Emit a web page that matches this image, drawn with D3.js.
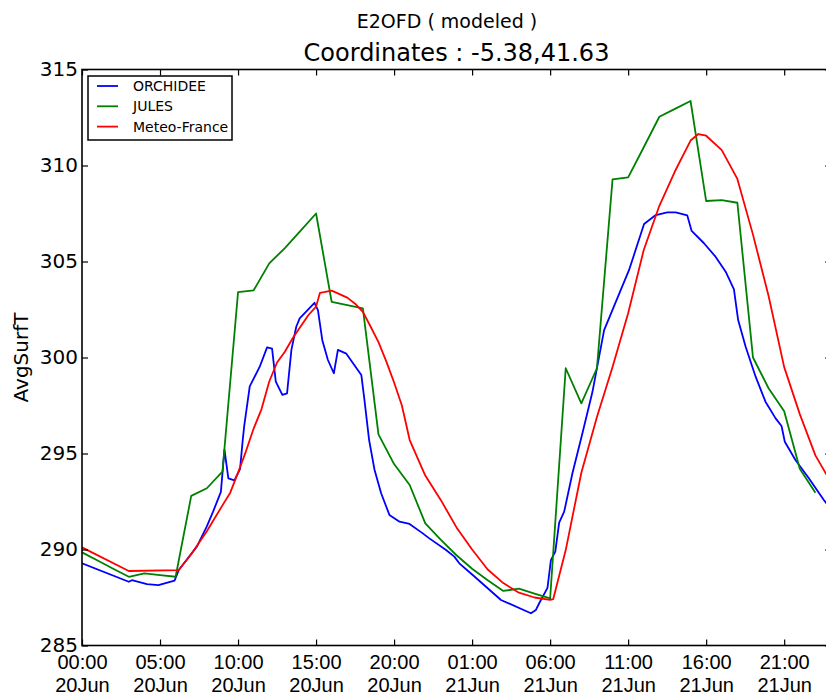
<!DOCTYPE html>
<html>
<head>
<meta charset="utf-8">
<script src="https://cdn.jsdelivr.net/npm/d3@7"></script>
<style>
  html, body { margin: 0; padding: 0; background: #fff; }
  svg { display: block; font-family: "DejaVu Sans", sans-serif; }
</style>
</head>
<body>
<svg id="chart" width="826" height="695"></svg>
<script>
// Surface temperature time series, hours since 00:00 20 Jun
const orchideeHours = [0,3,3.2,4.16,4.9,5.93,6.2,7.36,8.0,8.4,8.9,9.13,9.38,9.77,10.13,10.3,10.39,10.75,11.39,11.86,12.18,12.42,12.84,13.14,13.42,13.73,13.95,14.38,14.9,15.12,15.4,15.76,16.14,16.4,16.94,17.9,18.1,18.4,18.75,19.17,19.7,20.35,20.99,21.84,22.26,23.33,23.86,24.18,25.04,26.85,28.77,29.09,29.3,29.83,30.05,30.33,30.58,30.9,31.43,32.07,32.71,33.46,35.06,36.02,36.77,37.51,38.05,38.79,39.07,39.86,40.6,41.25,41.78,42.05,42.53,43.17,43.8,44.45,44.83,45.04,45.72,46.58,47.54,48];
const orchideeValues = [289.28,288.32,288.4,288.2,288.14,288.38,288.93,290.15,291.2,291.97,293.0,295.2,293.7,293.6,294.2,295.7,296.4,298.5,299.52,300.53,300.46,298.74,298.05,298.13,300.4,301.6,302.04,302.4,302.85,302.47,300.9,299.87,299.18,300.4,300.2,299.09,297.79,295.7,294.14,292.93,291.8,291.45,291.33,290.84,290.58,289.97,289.63,289.28,288.67,287.37,286.68,286.85,287.2,288.0,289.45,289.89,291.4,291.97,293.97,296.05,298.2,301.43,304.56,306.95,307.42,307.56,307.56,307.4,306.59,305.95,305.25,304.47,303.55,301.95,300.56,299.0,297.7,296.83,296.43,295.61,294.66,293.71,292.58,292.1];

const julesHours = [0,1,2,3,4,5,6,7,8,9,10,11,12,13,14,15,16,17,18,19,20,21,22,23,24,25,26,27,28,29,30,31,32,33,34,35,36,37,38,39,40,41,42,43,44,45,46,47];
const julesValues = [289.85,289.43,289.0,288.58,288.76,288.67,288.58,292.79,293.19,294.05,303.4,303.5,304.9,305.7,306.6,307.5,302.9,302.73,302.56,296.0,294.45,293.36,291.36,290.5,289.7,289.0,288.4,287.84,287.96,287.7,287.45,299.44,297.61,299.44,309.28,309.38,310.95,312.54,312.95,313.36,308.15,308.2,308.06,300.0,298.4,297.2,294.2,292.95];

const meteoHours = [0,3,6.2,7,8,9,9.5,10,10.5,11,11.5,12,12.5,13,13.5,14,14.5,15,15.25,15.5,16,16.5,17,17.5,18,18.5,19,19.5,20,20.5,21,22,23,24,25,26,27,28,29,30,30.2,31,32,33,34,35,36,37,38,39,39.5,40,41,42,43,44,45,46,47,48];
const meteoValues = [290.11,288.88,288.93,289.75,290.95,292.3,292.96,294.0,295.1,296.3,297.3,298.75,299.74,300.3,301.0,301.6,302.2,302.65,303.37,303.4,303.48,303.3,303.12,302.8,302.38,301.6,300.8,299.8,298.7,297.5,295.7,293.85,292.57,291.15,290.0,288.96,288.25,287.75,287.5,287.38,287.42,289.97,294.0,296.9,299.5,302.3,305.6,307.9,309.7,311.3,311.64,311.55,310.8,309.3,306.4,303.2,299.5,297.05,294.9,293.5];

const seriesNames = ["ORCHIDEE", "JULES", "Meteo-France"];
const seriesColors = ["#0000ff", "#008000", "#ff0000"];

const xTickHours = [0,5,10,15,20,25,30,35,40,45];
const xTickTimes = ["00:00","05:00","10:00","15:00","20:00","01:00","06:00","11:00","16:00","21:00"];
const xTickDays  = ["20Jun","20Jun","20Jun","20Jun","20Jun","21Jun","21Jun","21Jun","21Jun","21Jun"];
const yTicks = [285,290,295,300,305,310,315];

const suptitleText = "E2OFD ( modeled )";
const titleText = "Coordinates : -5.38,41.63";
const yLabelText = "AvgSurfT";

// Plot frame in pixels
const plotLeft = 82, plotRight = 831, plotTop = 69.5, plotBottom = 645.5;

const svg = d3.select("#chart");
const x = d3.scaleLinear().domain([0, 48]).range([plotLeft, plotRight]);
const y = d3.scaleLinear().domain([285, 315]).range([plotBottom, plotTop]);

svg.append("defs").append("clipPath").attr("id", "plotclip")
  .append("rect").attr("x", plotLeft).attr("y", plotTop)
  .attr("width", plotRight - plotLeft).attr("height", plotBottom - plotTop);

// Series lines
const series = [
  { hours: orchideeHours, values: orchideeValues },
  { hours: julesHours, values: julesValues },
  { hours: meteoHours, values: meteoValues }
];
const line = d3.line().x(d => x(d[0])).y(d => y(d[1]));
const lineLayer = svg.append("g").attr("clip-path", "url(#plotclip)");
series.forEach((s, i) => {
  lineLayer.append("path")
    .datum(d3.zip(s.hours, s.values))
    .attr("fill", "none")
    .attr("stroke", seriesColors[i])
    .attr("stroke-width", 1.8)
    .attr("stroke-linejoin", "round")
    .attr("d", line);
});

// Axes (inward ticks on all four sides)
function styleAxis(g) {
  g.select(".domain").remove();
  g.selectAll(".tick line").attr("stroke", "#000").attr("stroke-width", 1.2);
  g.selectAll(".tick text").attr("fill", "#000");
}

const xBottom = svg.append("g").attr("transform", `translate(0,${plotBottom})`)
  .call(d3.axisBottom(x).tickValues(xTickHours).tickSize(-6).tickSizeOuter(0).tickFormat(""));
styleAxis(xBottom);
xBottom.selectAll(".tick text").remove();
xBottom.selectAll(".tick").each(function(d, i) {
  const t = d3.select(this).append("text")
    .attr("fill", "#000").attr("text-anchor", "middle")
    .attr("font-size", 20);
  t.append("tspan").attr("x", 0).attr("y", 23).text(xTickTimes[i]);
  t.append("tspan").attr("x", 0).attr("y", 46).text(xTickDays[i]);
});

const xTop = svg.append("g").attr("transform", `translate(0,${plotTop})`)
  .call(d3.axisTop(x).tickValues(xTickHours).tickSize(-6).tickSizeOuter(0).tickFormat(""));
styleAxis(xTop);

const yLeft = svg.append("g").attr("transform", `translate(${plotLeft},0)`)
  .call(d3.axisLeft(y).tickValues(yTicks).tickSize(-6).tickSizeOuter(0).tickPadding(4).tickFormat(d3.format("d")));
styleAxis(yLeft);
yLeft.selectAll(".tick text").attr("font-size", 20).attr("font-family", "DejaVu Sans, sans-serif");

const yRight = svg.append("g").attr("transform", `translate(${plotRight},0)`)
  .call(d3.axisRight(y).tickValues(yTicks).tickSize(-6).tickSizeOuter(0).tickFormat(""));
styleAxis(yRight);

// Frame
svg.append("rect")
  .attr("x", plotLeft).attr("y", plotTop)
  .attr("width", plotRight - plotLeft).attr("height", plotBottom - plotTop)
  .attr("fill", "none").attr("stroke", "#000").attr("stroke-width", 1.6);

// Titles
svg.append("text").attr("x", 447).attr("y", 28)
  .attr("text-anchor", "middle").attr("font-size", 19).attr("fill", "#000")
  .text(suptitleText);
svg.append("text").attr("x", (plotLeft + plotRight) / 2).attr("y", 61)
  .attr("text-anchor", "middle").attr("font-size", 24).attr("fill", "#000")
  .text(titleText);
svg.append("text")
  .attr("transform", `translate(28,${(plotTop + plotBottom) / 2}) rotate(-90)`)
  .attr("text-anchor", "middle").attr("font-size", 20).attr("fill", "#000")
  .text(yLabelText);

// Legend
const legend = svg.append("g");
legend.append("rect").attr("x", 88).attr("y", 76).attr("width", 144).attr("height", 64)
  .attr("fill", "#fff").attr("stroke", "#000").attr("stroke-width", 1.5);
seriesNames.forEach((name, i) => {
  const ly = 86 + i * 20.3;
  legend.append("line").attr("x1", 97).attr("x2", 118).attr("y1", ly).attr("y2", ly)
    .attr("stroke", seriesColors[i]).attr("stroke-width", 1.8);
  legend.append("text").attr("x", 133).attr("y", ly + 5)
    .attr("font-size", 14).attr("fill", "#000").text(name);
});
</script>
</body>
</html>
